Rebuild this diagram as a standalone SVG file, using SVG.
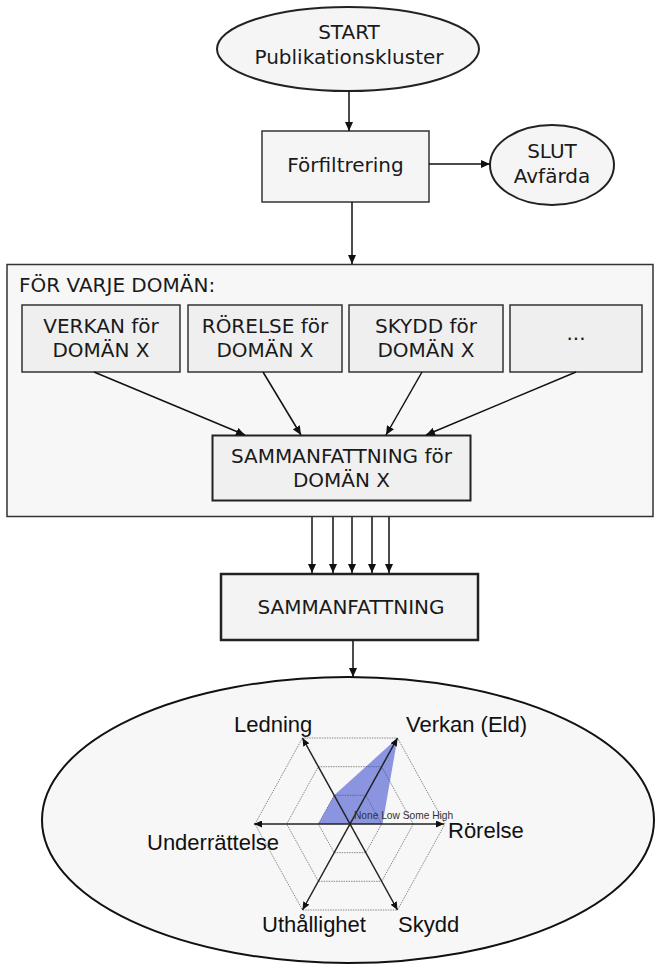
<svg xmlns="http://www.w3.org/2000/svg" width="655" height="964" viewBox="0 0 655 964">
<defs>
<marker id="arr" markerWidth="9" markerHeight="8" refX="9" refY="4" orient="auto" markerUnits="userSpaceOnUse"><path d="M0,0 L9,4 L0,8 z" fill="#111"/></marker>
<marker id="arrs" markerWidth="8" markerHeight="7" refX="8" refY="3.5" orient="auto-start-reverse" markerUnits="userSpaceOnUse"><path d="M0,0 L8,3.5 L0,7 z" fill="#111"/></marker>
<style>
.box{fill:#f5f5f5;stroke:#333;stroke-width:1.5}
.sub{fill:#efefef;stroke:#333;stroke-width:1.5}
.thick{fill:#f3f3f3;stroke:#222;stroke-width:2.5}
.t{font-family:"DejaVu Sans",Verdana,sans-serif;font-size:20px;fill:#1a1a1a;text-anchor:middle}
.c{stroke:#111;stroke-width:1.5;fill:none;marker-end:url(#arr)}
.hex{fill:none;stroke:#888;stroke-width:1;stroke-dasharray:1.5 1}
.ax{stroke:#222;stroke-width:1.5;fill:none;marker-start:url(#arrs);marker-end:url(#arrs)}
.rl{font-family:"Liberation Sans",Arial,sans-serif;font-size:22px;fill:#111}
</style>
</defs>
<rect width="655" height="964" fill="#ffffff"/>

<g id="start">
<ellipse cx="348" cy="49" rx="131" ry="42" fill="#f5f5f5" stroke="#222" stroke-width="2"/>
<text class="t" x="349" y="39">START</text>
<text class="t" x="349" y="64">Publikationskluster</text>
</g>

<g id="forfiltrering">
<rect class="box" x="262" y="131" width="167" height="71"/>
<text class="t" x="345.5" y="172">Förfiltrering</text>
</g>

<g id="slut">
<ellipse cx="552" cy="165" rx="62" ry="40" fill="#f5f5f5" stroke="#222" stroke-width="2"/>
<text class="t" x="552" y="158">SLUT</text>
<text class="t" x="552" y="183">Avfärda</text>
</g>

<g id="for-varje-doman">
<rect x="7" y="264.5" width="646" height="252" fill="#f7f7f7" stroke="#333" stroke-width="1.5"/>
<text class="t" x="19" y="292" style="text-anchor:start">FÖR VARJE DOMÄN:</text>
</g>

<g id="verkan">
<rect class="sub" x="22" y="305" width="158" height="67"/>
<text class="t" x="101" y="333">VERKAN för</text>
<text class="t" x="101" y="357">DOMÄN X</text>
</g>

<g id="rorelse">
<rect class="sub" x="188" y="305" width="154" height="67"/>
<text class="t" x="265" y="333">RÖRELSE för</text>
<text class="t" x="265" y="357">DOMÄN X</text>
</g>

<g id="skydd">
<rect class="sub" x="349" y="305" width="154" height="67"/>
<text class="t" x="426" y="333">SKYDD för</text>
<text class="t" x="426" y="357">DOMÄN X</text>
</g>

<g id="ovriga">
<rect class="sub" x="510" y="305" width="132" height="67"/>
<text class="t" x="576" y="340">...</text>
</g>

<g id="sammanfattning-doman">
<rect x="212.5" y="435.5" width="258" height="65" fill="#f0f0f0" stroke="#222" stroke-width="2"/>
<text class="t" x="341.5" y="463">SAMMANFATTNING för</text>
<text class="t" x="341.5" y="487">DOMÄN X</text>
</g>

<g id="sammanfattning">
<rect class="thick" x="221" y="574" width="257" height="66"/>
<text class="t" x="351" y="614">SAMMANFATTNING</text>
</g>

<g id="resultat">
<ellipse cx="348" cy="820" rx="306" ry="143" fill="#f7f7f7" stroke="#111" stroke-width="2"/>
<g id="radar">
<polygon class="hex" points="445,824 397.5,738 302.5,738 255,824 302.5,910 397.5,910"/>
<polygon class="hex" points="413.3,824 381.7,766.7 318.3,766.7 286.7,824 318.3,881.3 381.7,881.3"/>
<polygon class="hex" points="381.7,824 365.8,795.3 334.2,795.3 318.3,824 334.2,852.7 365.8,852.7"/>
<polygon points="397.5,738 334.2,795.3 318.3,824 382.5,824" fill="#3344cc" fill-opacity="0.55"/>
<line class="ax" x1="254" y1="824" x2="444" y2="824"/>
<line class="ax" x1="302.5" y1="738" x2="397.5" y2="910"/>
<line class="ax" x1="397.5" y1="738" x2="302.5" y2="910"/>
<text x="354" y="819" font-family="Liberation Sans, Arial, sans-serif" font-size="10.2" fill="#333">None Low Some High</text>
<text class="rl" x="234" y="732">Ledning</text>
<text class="rl" x="406" y="732">Verkan (Eld)</text>
<text class="rl" x="448" y="838">Rörelse</text>
<text class="rl" x="147" y="850">Underrättelse</text>
<text class="rl" x="262" y="932">Uthållighet</text>
<text class="rl" x="398" y="932">Skydd</text>
</g>
</g>

<g id="connectors">
<line class="c" x1="349" y1="91" x2="349" y2="131"/>
<line class="c" x1="429" y1="164" x2="490" y2="164"/>
<line class="c" x1="352" y1="202" x2="352" y2="264"/>
<line class="c" x1="94" y1="372" x2="245" y2="435"/>
<line class="c" x1="263" y1="372" x2="301" y2="435"/>
<line class="c" x1="422" y1="372" x2="386" y2="435"/>
<line class="c" x1="576" y1="372" x2="426" y2="435"/>
<line class="c" x1="312" y1="517" x2="312" y2="573"/>
<line class="c" x1="333" y1="517" x2="333" y2="573"/>
<line class="c" x1="352" y1="517" x2="352" y2="573"/>
<line class="c" x1="372" y1="517" x2="372" y2="573"/>
<line class="c" x1="389" y1="517" x2="389" y2="573"/>
<line class="c" x1="353" y1="641" x2="353" y2="677"/>
</g>
</svg>
